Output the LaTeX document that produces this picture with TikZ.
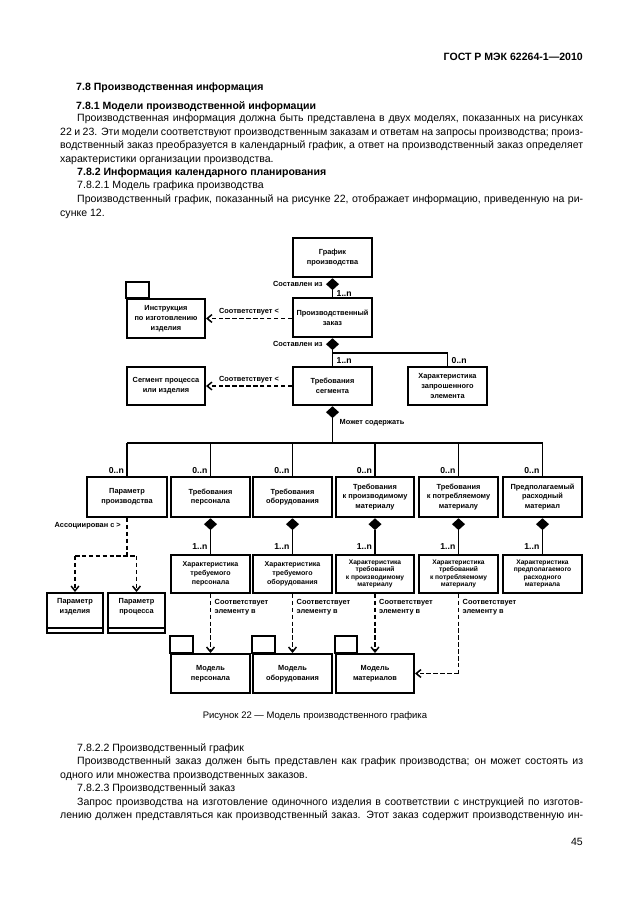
\documentclass[tikz,border=0pt]{standalone}
\usepackage{fontspec}
\setmainfont{Liberation Sans}
\usetikzlibrary{arrows.meta,shapes.geometric,calc}
\newdimen\pxu \pxu=0.33333mm
\tikzset{
  box/.style={draw, line width=0.65mm, align=center, inner sep=0pt,
    font=\bfseries\fontsize{7}{9.3}\selectfont},
  small/.style={font=\bfseries\fontsize{6.7}{8.3}\selectfont},
  tiny/.style={font=\bfseries\fontsize{6.3}{7.2}\selectfont},
  boxline/.style={line width=0.65mm},
  conn/.style={line width=0.6mm},
  dsh/.style={line width=0.55mm, dash pattern=on 1.5mm off 0.8mm},
  arr/.style={-{Straight Barb[length=1.6mm,width=2.6mm,line width=0.5mm]}},
  dmd/.style={diamond, fill=black, inner sep=0pt, minimum width=4.4mm, minimum height=4mm},
  lbl/.style={inner sep=0pt, font=\bfseries\fontsize{7}{8.5}\selectfont},
  mult/.style={inner sep=0pt, font=\bfseries\fontsize{8.2}{9}\selectfont},
  txt/.style={anchor=base west, inner sep=0pt, font=\fontsize{10}{12}\selectfont},
  hd/.style={anchor=base west, inner sep=0pt, font=\bfseries\fontsize{10}{12}\selectfont},
}
\newcommand\bx[7][]{\node[box,#1,minimum width={(#4-#2)*\pxu},minimum height={(#5-#3)*\pxu}] (#6) at ({(#2+#4)/2},{(#3+#5)/2}) {#7};}
\newcommand\jline[1]{\makebox[506\pxu][s]{#1}}
\newcommand\jlinew[1]{\makebox[523\pxu][s]{#1}}
\begin{document}
\begin{tikzpicture}[x=0.33333mm,y=-0.33333mm]
\useasboundingbox (0,0) rectangle (630,913);
% ---------- page text ----------
\node[hd, anchor=base east] (hdr) at (583,61) {ГОСТ Р МЭК 62264-1—2010};
\node[hd] (t1) at (76,91) {7.8 Производственная информация};
\node[hd] (t2) at (76,110) {7.8.1 Модели производственной информации};
\node[txt] (t3) at (77,122) {\jline{Производственная информация должна быть представлена в двух моделях, показанных на рисунках}};
\node[txt] (t4) at (60,135.5) {\jlinew{22 и 23. Эти модели соответствуют производственным заказам и ответам на запросы производства; произ-}};
\node[txt] (t5) at (60,149) {\jlinew{водственный заказ преобразуется в календарный график, а ответ на производственный заказ определяет}};
\node[txt] (t6) at (60,162.5) {характеристики организации производства.};
\node[hd] (t7) at (77,175.5) {7.8.2 Информация календарного планирования};
\node[txt] (t8) at (77,189) {7.8.2.1 Модель графика производства};
\node[txt] (t9) at (77,202.5) {\jline{Производственный график, показанный на рисунке 22, отображает информацию, приведенную на ри-}};
\node[txt] (t10) at (60,216) {сунке 12.};
\node[font=\fontsize{9}{11}\selectfont, inner sep=0pt] (cap) at (315,716) {Рисунок 22 — Модель производственного графика};
\node[txt] (u1) at (77,751) {7.8.2.2 Производственный график};
\node[txt] (u2) at (77,764.5) {\jline{Производственный заказ должен быть представлен как график производства; он может состоять из}};
\node[txt] (u3) at (60,778) {одного или множества производственных заказов.};
\node[txt] (u4) at (77,791.5) {7.8.2.3 Производственный заказ};
\node[txt] (u5) at (77,805) {\jline{Запрос производства на изготовление одиночного изделия в соответствии с инструкцией по изготов-}};
\node[txt] (u6) at (60,818.5) {\jlinew{лению должен представляться как производственный заказ. Этот заказ содержит производственную ин-}};
\node[txt, anchor=base east] (pg) at (583,845) {45};
% ---------- boxes ----------
\bx{293}{238}{372}{277}{G}{График\\производства}
\bx{293}{298}{372}{337}{Z}{Производственный\\заказ}
\bx{127}{299}{205}{338}{I}{Инструкция\\по изготовлению\\изделия}
\draw[boxline] (I.north west) rectangle ++(23,-16);
\bx{293}{367}{372}{405}{T}{Требования\\сегмента}
\bx{127}{367}{205}{405}{S}{Сегмент процесса\\или изделия}
\bx{408}{367}{487}{405}{C}{Характеристика\\запрошенного\\элемента}
\bx{87}{477}{167}{517}{B1}{Параметр\\производства}
\bx{171}{477}{250}{517}{B2}{Требования\\персонала}
\bx{253}{477}{332}{517}{B3}{Требования\\оборудования}
\bx{336}{477}{414}{517}{B4}{Требования\\к производимому\\материалу}
\bx{419}{477}{498}{517}{B5}{Требования\\к потребляемому\\материалу}
\bx{503}{477}{582}{517}{B6}{Предполагаемый\\расходный\\материал}
\bx[small]{171}{555}{250}{593}{R2}{Характеристика\\требуемого\\персонала}
\bx[small]{253}{555}{332}{593}{R3}{Характеристика\\требуемого\\оборудования}
\bx[tiny]{336}{555}{414}{593}{R4}{Характеристика\\требований\\к производимому\\материалу}
\bx[tiny]{419}{555}{498}{593}{R5}{Характеристика\\требований\\к потребляемому\\материалу}
\bx[tiny]{503}{555}{582}{593}{R6}{Характеристика\\предполагаемого\\расходного\\материала}
\bx{47}{593}{103}{633}{P1}{}
\bx{108}{593}{165}{633}{P2}{}
\draw[boxline] ($(P1.south west)+(0,-6)$) -- ($(P1.south east)+(0,-6)$);
\draw[boxline] ($(P2.south west)+(0,-6)$) -- ($(P2.south east)+(0,-6)$);
\node[box, draw=none] (P1t) at ($(P1.center)+(0,-6)$) {Параметр\\изделия};
\node[box, draw=none] (P2t) at ($(P2.center)+(0,-6)$) {Параметр\\процесса};
\bx{171}{654}{250}{693}{M1}{Модель\\персонала}
\draw[boxline] (M1.north west) rectangle ++(23,-17);
\bx{253}{654}{332}{693}{M2}{Модель\\оборудования}
\draw[boxline] (M2.north west) rectangle ++(23,-17);
\bx{336}{654}{414}{693}{M3}{Модель\\материалов}
\draw[boxline] (M3.north west) rectangle ++(22,-17);
% ---------- aggregation ----------
\node[dmd, anchor=north] (dG) at (G.south) {};
\draw[conn] (dG.south) -- (Z.north);
\node[lbl, anchor=east] (lG) at ($(dG.west)+(-3,0)$) {Составлен из};
\node[mult, anchor=west] (mG) at ($(dG.south)+(4,3)$) {1..n};
\node[dmd, anchor=north] (dZ) at (Z.south) {};
\draw[conn] (dZ.south) -- (T.north);
\coordinate (j1) at ($(dZ.south)+(0,3)$);
\draw[conn] (j1) -| (C.north);
\node[lbl, anchor=east] (lZ) at ($(dZ.west)+(-3,0)$) {Составлен из};
\node[mult, anchor=west] (mT) at ($(T.north)+(4,-6)$) {1..n};
\node[mult, anchor=west] (mC) at ($(C.north)+(4,-6)$) {0..n};
\node[dmd, anchor=north] (dT) at (T.south) {};
\coordinate (jb) at ($(T.south)+(0,37)$);
\draw[conn] (dT.south) -- (jb);
\node[lbl, anchor=west] (lT) at ($(dT.south)+(7,4)$) {Может содержать};
\draw[conn] (B1.north |- jb) -- (B6.north |- jb);
\foreach \b in {B1,B2,B3,B4,B5,B6}{
  \draw[conn] (\b.north |- jb) -- (\b.north);
  \node[mult, anchor=east] at ($(\b.north)+(-3,-6)$) {0..n};
}
\foreach \b/\r in {B2/R2,B3/R3,B4/R4,B5/R5,B6/R6}{
  \node[dmd, anchor=north] (d\b) at (\b.south) {};
  \draw[conn] (d\b.south) -- (\r.north);
  \node[mult, anchor=east] at ($(\r.north)+(-3,-8)$) {1..n};
}
% ---------- dependencies ----------
\draw[dsh, arr] (Z.west |- I.east) -- (I.east) node[lbl, midway, above=2.2pt] {Соответствует <};
\draw[dsh, arr] (T.west) -- (S.east) node[lbl, midway, above=2.2pt] {Соответствует <};
\coordinate (ja) at ($(B1.south)+(0,38)$);
\draw[dsh] (B1.south) -- (ja);
\draw[dsh] (P1.north |- ja) -- (P2.north |- ja);
\draw[dsh, arr] (P1.north |- ja) -- (P1.north);
\draw[dsh, arr] (P2.north |- ja) -- (P2.north);
\node[lbl, anchor=east] (lB1) at ($(B1.south)+(-6,8)$) {Ассоциирован с >};
\draw[dsh, arr] (R2.south) -- (M1.north);
\draw[dsh, arr] (R3.south) -- (M2.north);
\draw[dsh, arr] (R4.south) -- (M3.north);
\coordinate (jc) at (R5.south |- M3.east);
\draw[dsh] (R5.south) -- (jc);
\draw[dsh, arr] (jc) -- (M3.east);
\foreach \r in {R2,R3,R4,R5}{
  \node[lbl, anchor=north west, align=left] at ($(\r.south)+(4,5)$) {Соответствует\\элементу в};
}
\end{tikzpicture}
\end{document}
